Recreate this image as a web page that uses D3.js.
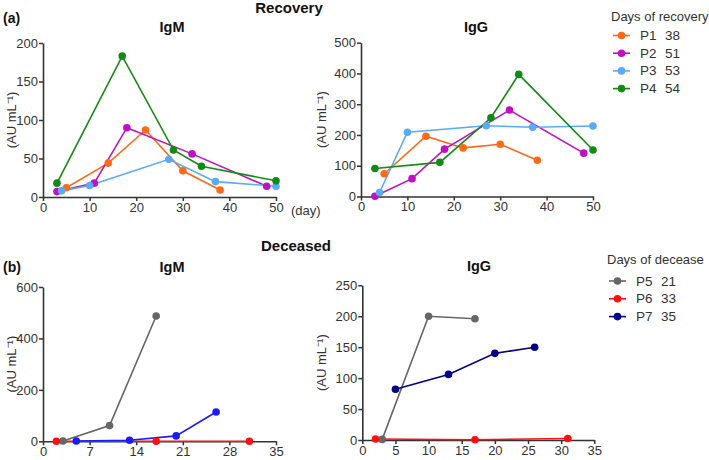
<!DOCTYPE html>
<html>
<head>
<meta charset="utf-8">
<script src="https://cdn.jsdelivr.net/npm/d3@7"></script>
<style>
  body { margin: 0; background: #fff; }
  svg { font-family: "Liberation Sans", Arial, sans-serif; }
</style>
</head>
<body>
<svg id="chart" width="709" height="460"></svg>
<script>
// ---------- Data ----------
const recoveryPatients = ["P1", "P2", "P3", "P4"];
const recoveryDays = [38, 51, 53, 54];
const recoveryColors = ["#ff6a1a", "#c010c4", "#5aaaf5", "#138a13"];

const igmRecovery = [
  [[5, 12], [14, 44], [22, 87], [30, 34], [38, 9]],
  [[3, 7], [11, 18], [18, 90], [32, 56], [48, 14]],
  [[4, 8], [10, 15], [27, 49], [37, 20], [50, 14]],
  [[3, 18], [17, 183], [28, 61], [34, 40], [50, 21]]
];
const iggRecovery = [
  [[5, 74], [14, 196], [22, 158], [30, 170], [38, 118]],
  [[3, 1], [11, 58], [18, 154], [32, 281], [48, 141]],
  [[4, 13], [10, 209], [27, 230], [37, 225], [50, 229]],
  [[3, 91], [17, 111], [28, 256], [34, 397], [50, 151]]
];

const deceasedPatients = ["P5", "P6", "P7"];
const deceasedDays = [21, 33, 35];
const deceasedColors = ["#666666", "#ff1010", "#00008b"];
const igmDeceasedColors = ["#666666", "#ff1010", "#1a1aff"];

const igmDeceased = [
  [[3, 1], [10, 61], [17, 487]],
  [[2, 0], [17, 0], [31, 0]],
  [[5, 1], [13, 4], [20, 21], [26, 114]]
];
const iggDeceased = [
  [[3, 1], [10, 200], [17, 196]],
  [[2, 1.5], [17, 0.5], [31, 2.5]],
  [[5, 82], [13, 106], [20, 140], [26, 150]]
];

const ticksAIgMx = [0, 10, 20, 30, 40, 50];
const ticksAIgMy = [0, 50, 100, 150, 200];
const ticksAIgGy = [0, 100, 200, 300, 400, 500];
const ticksBIgMx = [0, 7, 14, 21, 28, 35];
const ticksBIgMy = [0, 200, 400, 600];
const ticksBIgGx = [0, 5, 10, 15, 20, 25, 30, 35];
const ticksBIgGy = [0, 50, 100, 150, 200, 250];

// ---------- Drawing ----------
const svg = d3.select("#chart");
const axisColor = "#333";

function panel(cfg) {
  const x = d3.scaleLinear().domain(cfg.xDomain).range([cfg.x0, cfg.x1]);
  const y = d3.scaleLinear().domain(cfg.yDomain).range([cfg.y0, cfg.y1]);
  const g = svg.append("g");

  const xa = g.append("g").attr("transform", `translate(0,${cfg.y0})`)
    .call(d3.axisBottom(x).tickValues(cfg.xTicks).tickSize(4).tickSizeOuter(0).tickPadding(1.5));
  const ya = g.append("g").attr("transform", `translate(${cfg.x0},0)`)
    .call(d3.axisLeft(y).tickValues(cfg.yTicks).tickSize(4).tickSizeOuter(0).tickPadding(1));
  [xa, ya].forEach(a => {
    a.selectAll("path").attr("stroke", axisColor).attr("stroke-width", 1.6);
    a.selectAll("line").attr("stroke", axisColor).attr("stroke-width", 1.5);
    a.selectAll("text").attr("fill", "#333").style("font-size", "13px")
      .style("font-family", '"Liberation Sans", Arial, sans-serif');
  });

  const line = d3.line().x(d => x(d[0])).y(d => y(d[1]));
  cfg.series.forEach((s, i) => {
    g.append("path").datum(s).attr("d", line)
      .attr("fill", "none").attr("stroke", cfg.colors[i]).attr("stroke-width", 1.6);
  });
  cfg.series.forEach((s, i) => {
    g.selectAll(null).data(s).enter().append("circle")
      .attr("cx", d => x(d[0])).attr("cy", d => y(d[1])).attr("r", 3.8)
      .attr("fill", cfg.colors[i]);
  });

  // title
  g.append("text").attr("x", cfg.titleX).attr("y", cfg.titleY)
    .attr("text-anchor", "middle").style("font-size", "14.5px").style("font-weight", "bold")
    .attr("fill", "#111").text(cfg.title);
  // y label
  g.append("text")
    .attr("transform", `translate(${cfg.ylabX},${(cfg.y0 + cfg.y1) / 2}) rotate(-90)`)
    .attr("text-anchor", "middle").style("font-size", "13px").attr("fill", "#333")
    .text("(AU mL⁻¹)");
  return { x, y };
}

panel({ xDomain: [0, 50], yDomain: [0, 200], x0: 43, x1: 276, y0: 197, y1: 43,
  xTicks: ticksAIgMx, yTicks: ticksAIgMy, series: igmRecovery, colors: recoveryColors,
  title: "IgM", titleX: 172, titleY: 32, ylabX: 16 });
panel({ xDomain: [0, 50], yDomain: [0, 500], x0: 361, x1: 593, y0: 196.5, y1: 42.7,
  xTicks: ticksAIgMx, yTicks: ticksAIgGy, series: iggRecovery, colors: recoveryColors,
  title: "IgG", titleX: 476, titleY: 32, ylabX: 326 });
panel({ xDomain: [0, 35], yDomain: [0, 600], x0: 43, x1: 276, y0: 441.3, y1: 287,
  xTicks: ticksBIgMx, yTicks: ticksBIgMy, series: igmDeceased, colors: igmDeceasedColors,
  title: "IgM", titleX: 172, titleY: 272, ylabX: 16 });
panel({ xDomain: [0, 35], yDomain: [0, 250], x0: 362.3, x1: 594.3, y0: 440, y1: 285.3,
  xTicks: ticksBIgGx, yTicks: ticksBIgGy, series: iggDeceased, colors: deceasedColors,
  title: "IgG", titleX: 479, titleY: 271, ylabX: 326 });

// "(day)" label
svg.append("text").attr("x", 291).attr("y", 214.5).style("font-size", "13px").attr("fill", "#333").text("(day)");

// section headings
svg.append("text").attr("x", 289).attr("y", 13).attr("text-anchor", "middle")
  .style("font-size", "15px").style("font-weight", "bold").attr("fill", "#111").text("Recovery");
svg.append("text").attr("x", 296).attr("y", 251).attr("text-anchor", "middle")
  .style("font-size", "15px").style("font-weight", "bold").attr("fill", "#111").text("Deceased");
svg.append("text").attr("x", 3).attr("y", 23).style("font-size", "14px").style("font-weight", "bold")
  .attr("fill", "#111").text("(a)");
svg.append("text").attr("x", 3).attr("y", 272).style("font-size", "14px").style("font-weight", "bold")
  .attr("fill", "#111").text("(b)");

// legends
function legend(x, yTitle, rowY0, rowStep, title, names, days, colors) {
  const g = svg.append("g");
  g.append("text").attr("x", x).attr("y", yTitle).style("font-size", "13px").attr("fill", "#333").text(title);
  names.forEach((n, i) => {
    const cy = rowY0 + i * rowStep;
    g.append("line").attr("x1", x + 2).attr("x2", x + 19).attr("y1", cy).attr("y2", cy)
      .attr("stroke", colors[i]).attr("stroke-width", 1.6);
    g.append("circle").attr("cx", x + 10.5).attr("cy", cy).attr("r", 3.8).attr("fill", colors[i]);
    g.append("text").attr("x", x + 29).attr("y", cy + 4.5).style("font-size", "13.5px").attr("fill", "#333").text(n);
    g.append("text").attr("x", x + 54).attr("y", cy + 4.5).style("font-size", "13.5px").attr("fill", "#333").text(days[i]);
  });
}
legend(611, 21, 35.5, 17.7, "Days of recovery", recoveryPatients, recoveryDays, recoveryColors);
legend(607, 264, 281, 17.8, "Days of decease", deceasedPatients, deceasedDays, deceasedColors);
</script>
</body>
</html>
